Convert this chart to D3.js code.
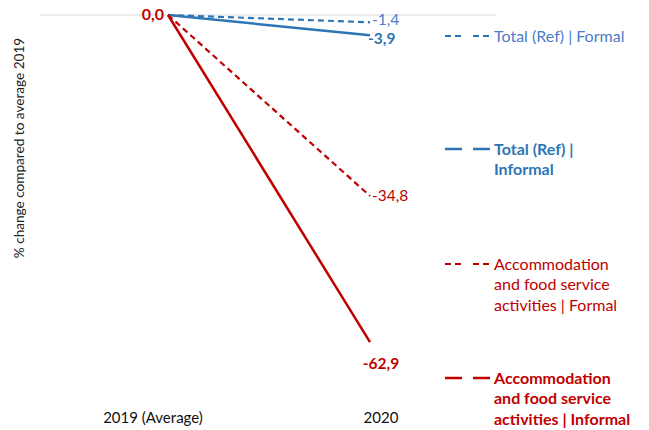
<!DOCTYPE html>
<html><head><meta charset="utf-8">
<script src="https://cdn.jsdelivr.net/npm/d3@7"></script>
<style>
html,body{margin:0;padding:0;background:#fff;}
svg{display:block;font-family:Lato, "Open Sans", sans-serif;}
</style></head>
<body>
<svg id="c" width="649" height="430"></svg>
<script>
const categories = ["2019 (Average)", "2020"];
const seriesNames = ["Total (Ref) | Formal", "Total (Ref) | Informal", "Accommodation and food service activities | Formal", "Accommodation and food service activities | Informal"];
const totalFormal = [0.0, -1.4];
const totalInformal = [0.0, -3.9];
const accFormal = [0.0, -34.8];
const accInformal = [0.0, -62.9];
const legendLines = [["Total (Ref) | Formal"], ["Total (Ref) |", "Informal"], ["Accommodation", "and food service", "activities | Formal"], ["Accommodation", "and food service", "activities | Informal"]];
const yDomain = [-70, 0];

const series = [
  {name: seriesNames[0], values: totalFormal, color: "#2E75B6", label: "#4A7EC8", dashed: true, bold: false, legendY: 36},
  {name: seriesNames[1], values: totalInformal, color: "#2E75B6", label: "#2E75B6", dashed: false, bold: true, legendY: 149},
  {name: seriesNames[2], values: accFormal, color: "#C00000", label: "#C00000", dashed: true, bold: false, legendY: 264},
  {name: seriesNames[3], values: accInformal, color: "#C00000", label: "#C00000", dashed: false, bold: true, legendY: 378}
];

const svg = d3.select("#c");
const x = d3.scalePoint().domain(categories).range([168, 370]);
const xl = d3.scalePoint().domain(categories).range([153, 381]);
const y = d3.scaleLinear().domain(yDomain).range([379, 15]);

svg.append("line").attr("x1", 40).attr("x2", 496).attr("y1", y(0)).attr("y2", y(0))
  .attr("stroke", "#d9d9d9").attr("stroke-width", 1.2);

svg.append("text").attr("transform", `translate(24,148) rotate(-90)`)
  .attr("text-anchor", "middle").attr("font-size", 13.6).attr("fill", "#222")
  .text("% change compared to average 2019");

svg.selectAll(".cat").data(categories).enter().append("text")
  .attr("x", d => xl(d)).attr("y", 423).attr("text-anchor", "middle")
  .attr("font-size", 15).attr("fill", "#111").text(d => d);

const line = d3.line().x((d, i) => x(categories[i])).y(d => y(d));

svg.selectAll(".ser").data(series).enter().append("path")
  .attr("d", d => line(d.values)).attr("fill", "none")
  .attr("stroke", d => d.color).attr("stroke-width", d => d.dashed ? 2.2 : 2.5)
  .attr("stroke-dasharray", d => d.dashed ? "6,4" : null);

const endPos = [
  {dx: 2, dy: -3, anchor: "start"},
  {dx: -2, dy: 3, anchor: "start"},
  {dx: 2, dy: 0, anchor: "start"},
  {dx: 11, dy: 21, anchor: "middle"}
];
series.forEach((s, i) => {
  const v = s.values[1];
  svg.append("text")
    .attr("x", x(categories[1]) + endPos[i].dx)
    .attr("y", y(v) + endPos[i].dy).attr("dy", "0.35em")
    .attr("text-anchor", endPos[i].anchor)
    .attr("font-size", 15.5).attr("font-weight", s.bold ? "bold" : "normal")
    .attr("fill", s.label).text(d3.format(".1f")(v).replace(".", ",").replace("−", "-"));
});
svg.append("text").attr("x", x(categories[0]) - 4).attr("y", y(accInformal[0]) - 1).attr("dy", "0.35em")
  .attr("text-anchor", "end").attr("font-size", 16).attr("font-weight", "bold")
  .attr("fill", "#C00000").text(d3.format(".1f")(accInformal[0]).replace(".", ","));

series.forEach((s, i) => {
  const g = svg.append("g");
  [[445, 462], [473, 490]].forEach(([a, b]) => {
    g.append("line").attr("x1", a).attr("x2", b).attr("y1", s.legendY).attr("y2", s.legendY)
      .attr("stroke", s.color).attr("stroke-width", s.dashed ? 2.2 : 2.5)
      .attr("stroke-dasharray", s.dashed ? "6,4" : null);
  });
  legendLines[i].forEach((t, j) => {
    g.append("text").attr("x", 494).attr("y", s.legendY + j * 20.8).attr("dy", "0.35em")
      .attr("font-size", 16).attr("font-weight", s.bold ? "bold" : "normal")
      .attr("fill", s.label).text(t);
  });
});
</script>
</body></html>
